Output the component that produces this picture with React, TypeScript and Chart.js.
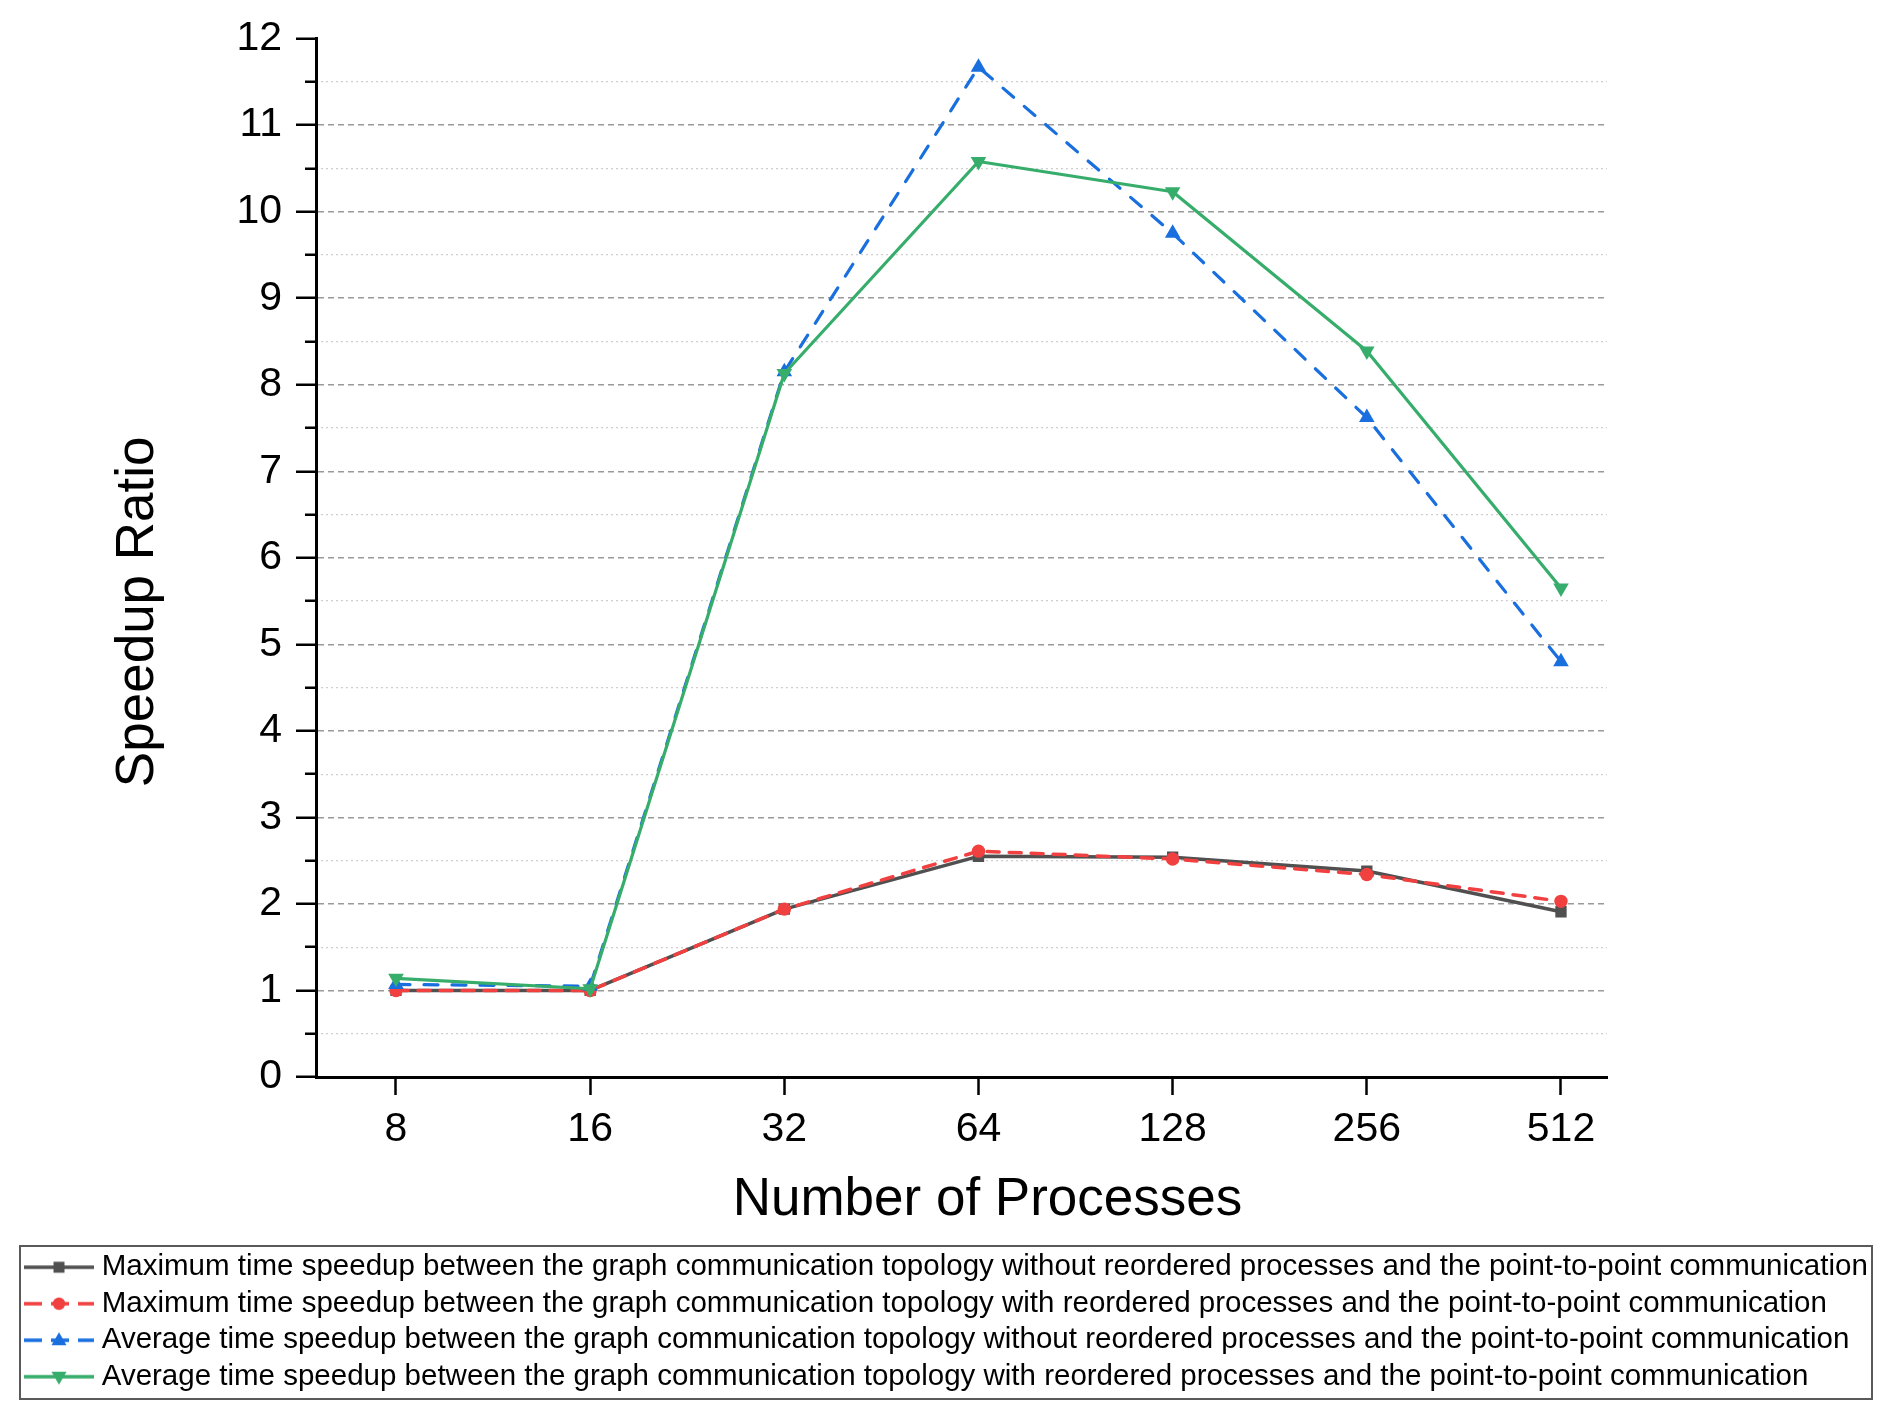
import React, { useEffect, useRef } from 'react';
import { Chart, registerables } from 'chart.js';

Chart.register(...registerables);

const categories = ['8', '16', '32', '64', '128', '256', '512'];
const maxNoReorder = [1.0, 1.0, 1.94, 2.55, 2.54, 2.38, 1.91];
const maxReorder = [1.0, 1.0, 1.94, 2.61, 2.52, 2.34, 2.03];
const avgNoReorder = [1.07, 1.05, 8.15, 11.67, 9.75, 7.62, 4.8];
const avgReorder = [1.14, 1.02, 8.13, 10.58, 10.23, 8.39, 5.65];

const seriesLabels = [
  'Maximum time speedup between the graph communication topology without reordered processes and the point-to-point communication',
  'Maximum time speedup between the graph communication topology with reordered processes and the point-to-point communication',
  'Average time speedup between the graph communication topology without reordered processes and the point-to-point communication',
  'Average time speedup between the graph communication topology with reordered processes and the point-to-point communication',
];
const xTitle = 'Number of Processes';
const yTitle = 'Speedup Ratio';

const FONT = '"Liberation Sans", Arial, Helvetica, sans-serif';

const styles = [
  { color: '#505050', dash: [] as number[], width: 3.5, point: 'rect', rotation: 0, radius: 8 },
  { color: '#F14040', dash: [12, 10], width: 3.5, point: 'circle', rotation: 0, radius: 6.7 },
  { color: '#1A6FDF', dash: [14, 14], width: 3.2, point: 'triangle', rotation: 0, radius: 9 },
  { color: '#37AD6B', dash: [] as number[], width: 3.2, point: 'triangle', rotation: 180, radius: 9 },
];

function makeSample(i: number): HTMLCanvasElement {
  const s = styles[i];
  const c = document.createElement('canvas');
  c.width = 70;
  c.height = 24;
  const g = c.getContext('2d')!;
  g.strokeStyle = s.color;
  g.lineWidth = 3.5;
  g.setLineDash(s.dash.length ? [18, 9] : []);
  g.beginPath();
  g.moveTo(0, 12);
  g.lineTo(70, 12);
  g.stroke();
  g.setLineDash([]);
  g.fillStyle = s.color;
  const cx = 35, cy = 12;
  g.beginPath();
  if (s.point === 'rect') {
    g.rect(cx - 5.5, cy - 5.5, 11, 11);
  } else if (s.point === 'circle') {
    g.arc(cx, cy, 6.2, 0, Math.PI * 2);
  } else if (s.rotation === 0) {
    g.moveTo(cx, cy - 8);
    g.lineTo(cx + 7.5, cy + 5);
    g.lineTo(cx - 7.5, cy + 5);
  } else {
    g.moveTo(cx, cy + 8);
    g.lineTo(cx + 7.5, cy - 5);
    g.lineTo(cx - 7.5, cy - 5);
  }
  g.closePath();
  g.fill();
  return c;
}

const decorPlugin = {
  id: 'decor',
  afterDraw(chart: any) {
    const { ctx, chartArea } = chart;
    const xs = chart.scales.x;
    ctx.save();
    ctx.fillStyle = '#000';
    ctx.font = `53px ${FONT}`;
    ctx.textAlign = 'center';
    ctx.textBaseline = 'middle';
    const cx = (xs.getPixelForValue(0) + xs.getPixelForValue(categories.length - 1)) / 2 + 9;
    ctx.fillText(xTitle, cx, chartArea.bottom + 123);
    ctx.save();
    ctx.translate(138, chartArea.top + (chartArea.bottom - chartArea.top) * 0.552);
    ctx.rotate(-Math.PI / 2);
    ctx.fillText(yTitle, 0, 0);
    ctx.restore();

    const l = chart.legend;
    if (l) {
      const x0 = l.left - 4;
      const x1 = l.right;
      const y0 = l.top + 0.5;
      const y1 = l.bottom - 2.5;
      ctx.strokeStyle = '#5a5a5a';
      ctx.lineWidth = 2;
      ctx.strokeRect(x0, y0, x1 - x0, y1 - y0);
    }
    ctx.restore();
  },
};

export default function App() {
  const ref = useRef<HTMLCanvasElement | null>(null);

  useEffect(() => {
    if (!ref.current) return;
    const series = [maxNoReorder, maxReorder, avgNoReorder, avgReorder];
    const samples = series.map((_, i) => makeSample(i));
    const datasets = series.map((vals, i) => {
      const s = styles[i];
      return {
        label: seriesLabels[i],
        data: vals.map((v, j) => ({ x: j, y: v })),
        borderColor: s.color,
        backgroundColor: s.color,
        borderWidth: s.width,
        borderDash: s.dash,
        borderCapStyle: s.dash.length ? 'round' : 'butt',
        borderJoinStyle: 'round',
        pointStyle: s.point,
        pointRotation: s.rotation,
        pointRadius: s.radius,
        pointBorderWidth: 0,
        pointBackgroundColor: s.color,
        pointBorderColor: s.color,
        tension: 0,
        fill: false,
        order: 4 - i,
      };
    });

    const chart = new Chart(ref.current, {
      type: 'line',
      data: { datasets },
      plugins: [decorPlugin],
      options: {
        animation: false,
        responsive: false,
        devicePixelRatio: 1,
        layout: { padding: { left: 24, right: 20, top: 36.7, bottom: 17.5 } },
        plugins: {
          tooltip: { enabled: false },
          title: { display: false },
          legend: {
            display: true,
            position: 'bottom',
            align: 'start',
            labels: {
              usePointStyle: true,
              pointStyleWidth: 56,
              padding: 7,
              color: '#000',
              font: { family: FONT, size: 29.5 },
              generateLabels: (ch: any) =>
                ch.data.datasets.map((ds: any, i: number) => ({
                  text: ds.label,
                  datasetIndex: i,
                  pointStyle: samples[i],
                  hidden: false,
                  lineWidth: 0,
                  strokeStyle: 'rgba(0,0,0,0)',
                  fillStyle: 'rgba(0,0,0,0)',
                  fontColor: '#000',
                })),
            },
          },
        },
        scales: {
          x: {
            type: 'linear',
            position: 'bottom',
            min: -0.412,
            max: 6.237,
            afterFit: (s: any) => {
              s.height = 168.5;
            },
            afterBuildTicks: (s: any) => {
              s.ticks = categories.map((_, i) => ({ value: i }));
            },
            ticks: {
              autoSkip: false,
              maxRotation: 0,
              padding: 10,
              color: '#000',
              font: { family: FONT, size: 41 },
              callback: (v: any) => categories[v] ?? '',
            },
            grid: {
              drawOnChartArea: false,
              drawTicks: true,
              tickLength: 18,
              tickWidth: 2.5,
              tickColor: '#000',
            },
            border: { display: true, color: '#000', width: 3 },
          },
          y: {
            type: 'linear',
            position: 'left',
            min: 0,
            max: 12,
            afterFit: (s: any) => {
              s.width = 292;
            },
            ticks: {
              stepSize: 0.5,
              autoSkip: false,
              padding: 14,
              color: '#000',
              font: { family: FONT, size: 41 },
              callback: (v: any) => (Number.isInteger(v) ? String(v) : ''),
            },
            grid: {
              drawOnChartArea: true,
              drawTicks: true,
              color: (c: any) =>
                c.tick && Number.isInteger(c.tick.value) && c.tick.value > 0 && c.tick.value < 12
                  ? '#9a9a9a'
                  : 'rgba(0,0,0,0)',
              lineWidth: 1.5,
              tickLength: 20,
              tickWidth: 2.5,
              tickColor: '#000',
              tickBorderDash: (c: any) => (c.tick && !Number.isInteger(c.tick.value) ? [20, 9] : []),
              tickBorderDashOffset: (c: any) => (c.tick && !Number.isInteger(c.tick.value) ? 20 : 0),
            },
            border: { display: true, color: '#000', width: 3, dash: [6, 4] },
          },
          yMinor: {
            type: 'linear',
            position: 'right',
            min: 0,
            max: 12,
            afterFit: (s: any) => {
              s.width = 265;
            },
            ticks: { display: false, stepSize: 0.5, autoSkip: false },
            grid: {
              drawOnChartArea: true,
              drawTicks: false,
              color: (c: any) =>
                c.tick && !Number.isInteger(c.tick.value) ? '#cfcfcf' : 'rgba(0,0,0,0)',
              lineWidth: 1.2,
            },
            border: { display: false, dash: [2, 3] },
          },
        },
      },
    } as any);

    return () => chart.destroy();
  }, []);

  return (
    <div style={{ position: 'absolute', left: 0, top: 0, width: 1892, height: 1419, background: '#fff' }}>
      <canvas ref={ref} width={1892} height={1419} style={{ width: 1892, height: 1419, display: 'block' }} />
    </div>
  );
}
